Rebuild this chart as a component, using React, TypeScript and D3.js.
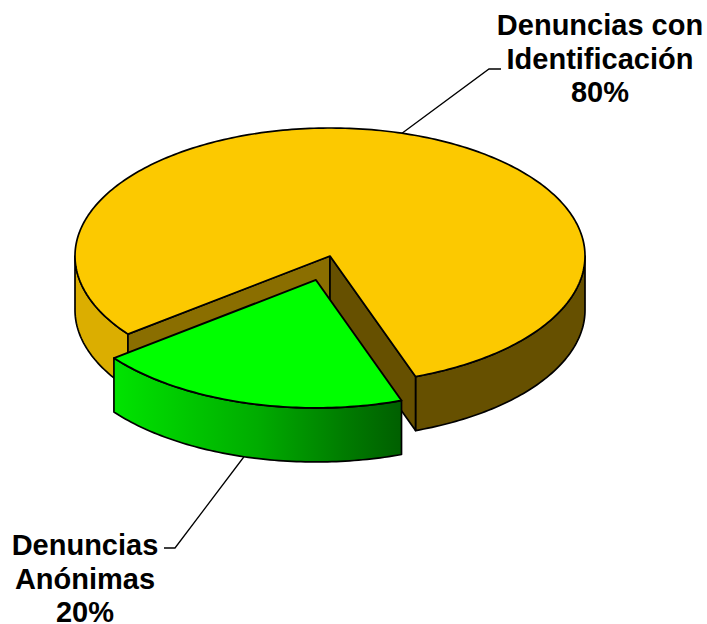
import React from "react";
import * as d3 from "d3";

const categories = ["Denuncias con Identificación", "Denuncias Anónimas"];
const values = [80, 20];
const labelLines = [
  ["Denuncias con", "Identificación", "80%"],
  ["Denuncias", "Anónimas", "20%"],
];
const topColors = ["#fcc900", "#00ff00"];

const width = 707;
const height = 624;
const cx = 330;
const cy = 256;
const rx = 255;
const ry = 128;
const depth = 54;
const explode = [0, 0.195];
const rad = (deg: number) => (deg * Math.PI) / 180;

const pie = d3
  .pie<number>()
  .sort(null)
  .startAngle(rad(232.4))
  .endAngle(rad(232.4 + 360));
const slices = pie(values);

// unit circle to screen, y squashed for the tilt
const sx = d3.scaleLinear().domain([-1, 1]).range([-rx, rx]);
const sy = d3.scaleLinear().domain([-1, 1]).range([-ry, ry]);

const line = d3.line<[number, number]>();

function rim(a0: number, a1: number, ox: number, oy: number) {
  const n = Math.max(2, Math.ceil(Math.abs(a1 - a0) / rad(1)));
  return d3.range(n + 1).map((i) => {
    const a = a0 + ((a1 - a0) * i) / n;
    return [ox + sx(Math.sin(a)), oy + sy(-Math.cos(a))] as [number, number];
  });
}

function wall(a0: number, a1: number, ox: number, oy: number) {
  const upper = rim(a0, a1, ox, oy);
  const lower = upper.map(([x, y]) => [x, y + depth] as [number, number]).reverse();
  return line([...upper, ...lower]) + "Z";
}

function offset(i: number) {
  const mid = (slices[i].startAngle + slices[i].endAngle) / 2;
  return [
    cx + sx(Math.sin(mid) * explode[i]),
    cy + sy(-Math.cos(mid) * explode[i]),
  ];
}

function leader(i: number, elbowX: number, elbowY: number, endX: number) {
  const mid = (slices[i].startAngle + slices[i].endAngle) / 2;
  const [ox, oy] = offset(i);
  const p: [number, number] = [
    ox + sx(Math.sin(mid)),
    oy + sy(-Math.cos(mid)) + (i === 1 ? depth : 0),
  ];
  return line([p, [elbowX, elbowY], [endX, elbowY]]) as string;
}

const labelPos = [
  { x: 600, y: 35 },
  { x: 85, y: 555 },
];

export default function App() {
  const [yx, yy] = offset(0);
  const [gx, gy] = offset(1);
  const y0 = slices[0];
  const g0 = slices[1];
  const yApex: [number, number] = [yx, yy];
  const yStart = rim(y0.startAngle, y0.startAngle, yx, yy)[0];
  const yEnd = rim(y0.endAngle, y0.endAngle, yx, yy)[0];
  const down = (p: [number, number]) => [p[0], p[1] + depth] as [number, number];

  const yTop = line([yApex, ...rim(y0.startAngle, y0.endAngle, yx, yy)]) + "Z";
  const gTop = line([[gx, gy], ...rim(g0.startAngle, g0.endAngle, gx, gy)]) + "Z";

  return (
    <svg
      width={width}
      height={height}
      style={{ position: "absolute", left: 0, top: 0, background: "#fff" }}
      aria-label={categories.join(", ")}
    >
      <defs>
        <linearGradient id="greenWall" x1="0" x2="1" y1="0" y2="0">
          <stop offset="0" stopColor="#00e400" />
          <stop offset="0.5" stopColor="#00ac00" />
          <stop offset="0.8" stopColor="#007c00" />
          <stop offset="1" stopColor="#005f00" />
        </linearGradient>
      </defs>

      <path d={leader(0, 489, 69, 501)} fill="none" stroke="#000" strokeWidth={1.3} />
      <path d={leader(1, 175, 548, 164)} fill="none" stroke="#000" strokeWidth={1.3} />

      {/* yellow slice: outer walls, cut walls, top */}
      <g stroke="#000" strokeWidth={1.7} strokeLinejoin="round">
        <path d={wall(y0.startAngle, rad(270), yx, yy)} fill="#dbae00" />
        <path d={wall(rad(90 + 360), y0.endAngle, yx, yy)} fill="#665000" />
        <path
          d={(line([yApex, yStart, down(yStart), down(yApex)]) as string) + "Z"}
          fill="#8a6e00"
        />
        <path
          d={(line([yApex, yEnd, down(yEnd), down(yApex)]) as string) + "Z"}
          fill="#665000"
        />
        <path d={yTop} fill={topColors[0]} />
      </g>

      {/* green slice, pulled out */}
      <g stroke="#000" strokeLinejoin="round">
        <path d={wall(g0.startAngle, g0.endAngle, gx, gy)} fill="url(#greenWall)" strokeWidth={1.7} />
        <path d={gTop} fill={topColors[1]} strokeWidth={1.9} />
      </g>

      {labelLines.map((lines, i) => (
        <text
          key={i}
          textAnchor="middle"
          fontFamily="'Liberation Sans', Arial, sans-serif"
          fontWeight="bold"
          fontSize={29}
          fill="#000"
        >
          {lines.map((t, j) => (
            <tspan key={j} x={labelPos[i].x} y={labelPos[i].y + j * 33.5}>
              {t}
            </tspan>
          ))}
        </text>
      ))}
    </svg>
  );
}
